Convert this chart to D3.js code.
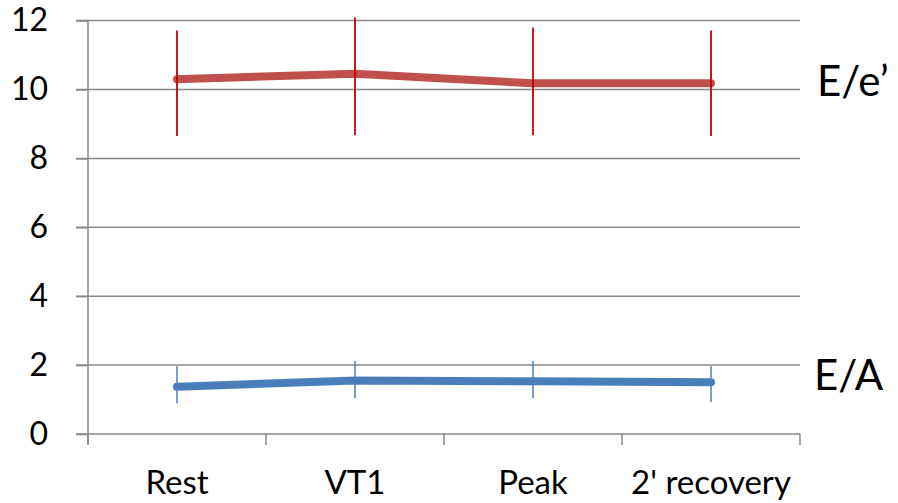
<!DOCTYPE html>
<html><head><meta charset="utf-8">
<script src="https://cdn.jsdelivr.net/npm/d3@7"></script>
<style>body{margin:0;background:#fff}svg{display:block}</style>
</head><body>
<svg id="c" width="898" height="503"></svg>
<script>
const categories = ["Rest", "VT1", "Peak", "2' recovery"];
const eeValues = [10.3, 10.46, 10.18, 10.18];
const eeHigh = [11.71, 12.09, 11.8, 11.71];
const eeLow = [8.65, 8.67, 8.67, 8.65];
const eaValues = [1.37, 1.55, 1.53, 1.5];
const eaHigh = [1.97, 2.12, 2.12, 1.97];
const eaLow = [0.89, 1.04, 1.04, 0.93];
const yTicks = [0, 2, 4, 6, 8, 10, 12];
const seriesNames = ["E/e\u2019", "E/A"];

const FONT = "Lato, 'Open Sans', sans-serif";
const svg = d3.select("#c");
const x = d3.scaleBand().domain(categories).range([88, 800]);
const y = d3.scaleLinear().domain([0, 12]).range([434, 20.6]);
const grid = "#888";

svg.append("g").selectAll("line").data(yTicks.filter(d => d > 0)).join("line")
  .attr("x1", 76).attr("x2", 800).attr("y1", d => y(d)).attr("y2", d => y(d))
  .attr("stroke", grid).attr("stroke-width", 1.5);

const ya = svg.append("g").attr("transform", "translate(88,0)")
  .call(d3.axisLeft(y).tickValues(yTicks).tickSize(12).tickPadding(23).tickFormat(d3.format("d")));
ya.attr("font-family", FONT).attr("font-size", 32);
ya.select(".domain").remove();
ya.selectAll("line").attr("stroke", grid).attr("stroke-width", 1.5);
ya.selectAll("text").attr("fill", "#000").attr("dx", -5);
svg.append("line").attr("x1", 88).attr("x2", 88).attr("y1", y(12)).attr("y2", y(0)+10)
  .attr("stroke", grid).attr("stroke-width", 1.5);

svg.append("line").attr("x1", 76).attr("x2", 800).attr("y1", y(0)).attr("y2", y(0))
  .attr("stroke", grid).attr("stroke-width", 1.5);
const bounds = categories.map(c => x(c)).concat([x.range()[1]]);
svg.append("g").selectAll("line").data(bounds).join("line")
  .attr("x1", d => d).attr("x2", d => d).attr("y1", y(0)).attr("y2", y(0) + 11)
  .attr("stroke", grid).attr("stroke-width", 1.5);
svg.append("g").attr("font-family", FONT).selectAll("text").data(categories).join("text")
  .attr("x", d => x(d) + x.bandwidth() / 2).attr("y", 494)
  .attr("text-anchor", "middle").attr("font-size", 33).attr("fill", "#000").text(d => d);

const cx = c => x(c) + x.bandwidth() / 2;
function series(vals, hi, lo, lineColor, errColor, errW) {
  const g = svg.append("g");
  g.append("path").datum(vals)
    .attr("d", d3.line().x((d, i) => cx(categories[i])).y(d => y(d)))
    .attr("fill", "none").attr("stroke", lineColor).attr("stroke-width", 8)
    .attr("stroke-linecap", "round").attr("stroke-linejoin", "round");
  g.selectAll("line").data(categories).join("line")
    .attr("x1", d => cx(d)).attr("x2", d => cx(d))
    .attr("y1", (d, i) => y(hi[i])).attr("y2", (d, i) => y(lo[i]))
    .attr("stroke", errColor).attr("stroke-width", errW);
}
series(eeValues, eeHigh, eeLow, "#c0504d", "#c00000", 1.8);
series(eaValues, eaHigh, eaLow, "#4a7ebb", "#4a7ebb", 1.5);

svg.append("text").attr("font-family", FONT).attr("x", 817).attr("y", 96).attr("font-size", 42).attr("fill", "#000").text(seriesNames[0]);
svg.append("text").attr("font-family", FONT).attr("x", 814).attr("y", 390).attr("font-size", 42).attr("fill", "#000").text(seriesNames[1]);
</script>
</body></html>
